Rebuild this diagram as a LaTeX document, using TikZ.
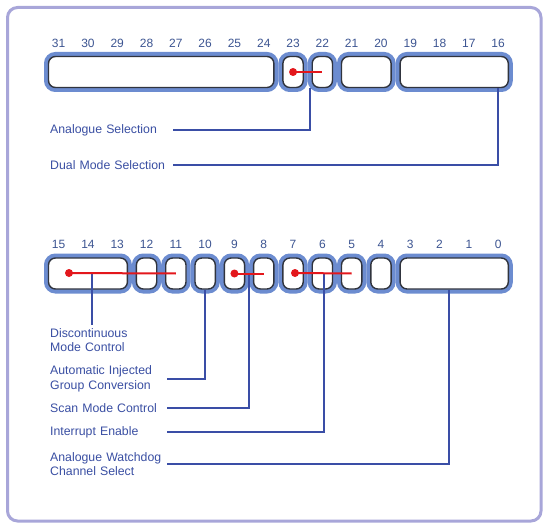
\documentclass[tikz,border=0pt]{standalone}
\usepackage{fontspec}
\setmainfont{Liberation Sans}
\usetikzlibrary{positioning, calc, shadows}
\definecolor{framelav}{HTML}{A8A6D9}
\definecolor{boxblue}{HTML}{6C8CD0}
\definecolor{boxdark}{HTML}{30343E}
\definecolor{txtblue}{HTML}{3A4FA3}
\definecolor{numblue}{HTML}{3D5592}
\definecolor{linkblue}{HTML}{3A4EA6}
\definecolor{selred}{HTML}{E3171C}
\tikzset{
  frame/.style   = {draw=framelav, line width=3pt, rounded corners=10pt, fill=white},
  regbox/.style  = {rectangle, rounded corners=7pt, draw=boxdark, line width=1.4pt,
                    fill=white, minimum height=31pt, inner sep=0pt,
                    drop shadow={shadow xshift=0pt, shadow yshift=-3pt,
                                 fill=black!72, opacity=1},
                    preaction={draw=boxblue, line width=9pt}},
  bitnum/.style  = {font=\fontsize{12}{13}\selectfont, text=numblue, inner sep=0pt},
  desc/.style    = {anchor=west, inner sep=0pt, text width=117pt, align=left,
                    font=\fontsize{12.3}{14.5}\selectfont, text=txtblue},
  conn/.style    = {draw=linkblue, line width=2pt},
  sel/.style     = {draw=selred, line width=2pt},
  dot/.style     = {circle, fill=selred, inner sep=0pt, minimum size=8pt},
}
\begin{document}
\begin{tikzpicture}[x=1pt, y=-1pt]
  \useasboundingbox (0,0) rectangle (544,524);
  \draw[frame] (7.5,7.5) rectangle (541,521);

  % bit numbers
  \foreach \b in {16,...,31}
    \node[bitnum] (n\b) at ({44+(31-\b+0.5)*29.3}, 43) {\b};
  \foreach \b in {0,...,15}
    \node[bitnum] (n\b) at ({44+(15-\b+0.5)*29.3}, 244) {\b};

  % register fields
  \foreach \hi/\lo in {31/24, 23/23, 22/22, 21/20, 19/16} {
    \pgfmathsetmacro\cx{44+(31-\hi)*29.3+(\hi-\lo+1)*14.65}
    \pgfmathsetmacro\fieldw{(\hi-\lo+1)*29.3-9}
    \node[regbox, minimum width=\fieldw pt] (r\hi) at (\cx, 72) {};
  }
  \foreach \hi/\lo in {15/13, 12/12, 11/11, 10/10, 9/9, 8/8, 7/7, 6/6, 5/5, 4/4, 3/0} {
    \pgfmathsetmacro\cx{44+(15-\hi)*29.3+(\hi-\lo+1)*14.65}
    \pgfmathsetmacro\fieldw{(\hi-\lo+1)*29.3-9}
    \node[regbox, minimum width=\fieldw pt] (r\hi) at (\cx, 273.5) {};
  }

  % descriptions
  \node[desc, text width=123pt] (anasel)  at (50,130) {Analogue Selection};
  \node[desc, text width=123pt] (dualsel) at (50,165) {Dual Mode Selection};
  \node[desc] (discmode)  at (50,340) {Discontinuous\\Mode Control};
  \node[desc] (autoinj)   at (50,379) {Automatic Injected\\Group Conversion};
  \node[desc] (scanmode)  at (50,408) {Scan Mode Control};
  \node[desc] (intenable) at (50,432) {Interrupt Enable};
  \node[desc] (watchdog)  at (50,464) {Analogue Watchdog\\Channel Select};

  % selection dots
  \node[dot] (d23) at (n23 |- r23) {};
  \node[dot] (d15) at (69, 273) {};
  \node[dot] (d9)  at (n9 |- r9) {};
  \node[dot] (d7)  at (295, 273) {};

  % connectors
  \draw[conn] ([xshift=-2pt]r22.south west) |- (anasel);
  \draw[conn] (n16 |- r19.south) |- (dualsel);
  \draw[conn, shorten >=3pt] ([xshift=4pt]n14 |- d15) -- ([xshift=4pt]n14 |- discmode.north);
  \draw[conn] (r10.south) |- (autoinj);
  \draw[conn] ($(r9.east)!.5!(r8.west)$) |- (scanmode);
  \draw[conn] ([xshift=2pt]n6 |- d7) |- (intenable);
  \draw[conn] ([xshift=-5pt]r3.south) |- (watchdog);

  % selection bars
  \draw[sel] (d23.center) -- (n22 |- r22);
  \draw[sel] (d15.center) -- (n11 |- r11);
  \draw[sel] (d9.center)  -- (n8 |- r8);
  \draw[sel] (d7.center)  -- (n5 |- r5);
\end{tikzpicture}
\end{document}
